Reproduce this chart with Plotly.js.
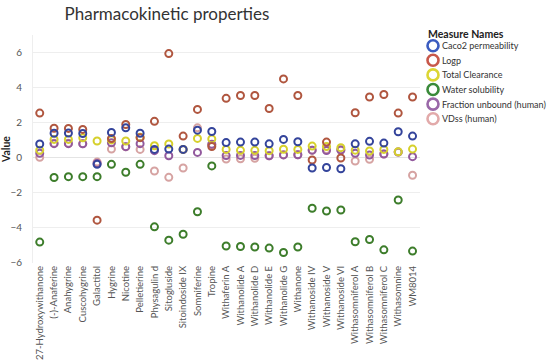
<!DOCTYPE html>
<html>
<head>
<meta charset="utf-8">
<script src="https://cdn.plot.ly/plotly-3.0.1.min.js"></script>
<style>html,body{margin:0;padding:0;background:#fff}#chart{width:550px;height:364px}</style>
</head>
<body>
<div id="chart"></div>
<script>
const categories = ["27-Hydroxywithanone","(-)-Anaferine","Anahygrine","Cuscohygrine","Galactitol","Hygrine","Nicotine","Pelletierine","Physagulin d","Sitogluside","Sitoindoside IX","Somniferine","Tropine","Withaferin A","Withanolide A","Withanolide D","Withanolide E","Withanolide G","Withanone","Withanoside IV","Withanoside V","Withanoside VI","Withasomniferol A","Withasomniferol B","Withasomniferol C","Withasomnine","WM8014"];
const caco2 = [0.76,1.37,1.38,1.36,-0.40,1.42,1.68,1.37,0.45,0.47,0.45,1.55,1.47,0.84,0.87,0.87,0.77,1.02,0.89,-0.61,-0.58,-0.65,0.77,0.91,0.81,1.46,1.21];
const logp = [2.52,1.66,1.65,1.59,-3.58,1.07,1.87,1.12,2.05,5.91,1.21,2.73,0.62,3.36,3.52,3.52,2.78,4.47,3.52,-0.15,0.87,-0.04,2.54,3.44,3.58,2.52,3.44];
const totalClearance = [0.41,1.02,1.02,1.11,0.93,1.00,0.93,1.15,0.66,0.76,0.45,1.08,1.05,0.45,0.40,0.40,0.38,0.46,0.45,0.64,0.62,0.55,0.41,0.36,0.45,0.32,0.47];
const waterSolubility = [-4.83,-1.15,-1.10,-1.10,-1.10,-0.40,-0.85,-0.40,-3.96,-4.72,-4.38,-3.10,-0.49,-5.05,-5.08,-5.11,-5.17,-5.42,-5.11,-2.90,-3.06,-3.00,-4.81,-4.68,-5.27,-2.43,-5.34];
const fractionUnbound = [0.23,0.78,0.78,0.77,-0.35,0.83,0.61,0.78,0.38,0.09,0.44,0.28,0.75,0.10,0.11,0.10,0.09,0.14,0.15,0.41,0.39,0.42,0.23,0.13,0.19,0.30,0.04];
const vdss = [0.00,0.80,0.80,0.78,-0.27,0.47,0.60,0.45,-0.78,-1.14,-0.61,1.68,0.72,-0.10,-0.08,-0.05,0.09,0.15,0.15,0.40,0.45,0.42,-0.21,-0.11,0.19,0.30,-1.02];

const measureNames = ["Caco2 permeability","Logp","Total Clearance","Water solubility","Fraction unbound (human)","VDss (human)"];
const seriesValues = [caco2, logp, totalClearance, waterSolubility, fractionUnbound, vdss];
const colors = ["#34449b","#b0563f","#d6d02c","#3d7d2b","#92599d","#d6a3a2"];
const legendColors = ["#3b5cc0","#c8584a","#dcd634","#3a8a3a","#9a68a8","#e2aaaa"];

const FONT = "Lato, 'Open Sans', sans-serif";
const drawOrder = [5,4,3,2,1,0];
const traces = drawOrder.map(i => ({
  type: "scatter", mode: "markers", name: measureNames[i],
  x: categories, y: seriesValues[i],
  marker: {symbol: "circle-open", size: 7, color: colors[i], line: {width: 2}},
  showlegend: false, hoverinfo: "x+y+name"
}));

// manual legend
const L = 33, R = 420, T = 35, B = 263;
const px = v => (v - L) / (R - L);
const py = v => (B - v) / (B - T);
const shapes = [], annotations = [];
measureNames.forEach((n, i) => {
  const yy = 45.7 + i * 14.6;
  shapes.push({type: "circle", xref: "paper", yref: "paper", xsizemode: "pixel", ysizemode: "pixel",
    xanchor: px(433), yanchor: py(yy), x0: -5.5, x1: 5.5, y0: -5.5, y1: 5.5,
    line: {color: legendColors[i], width: 2.6}, fillcolor: "rgba(0,0,0,0)"});
  annotations.push({xref: "paper", yref: "paper", x: px(439.5), y: py(yy), xanchor: "left", yanchor: "middle",
    text: n, showarrow: false, font: {family: FONT, size: 9, color: "#333"}});
});
annotations.push({xref: "paper", yref: "paper", x: px(426), y: py(34), xanchor: "left", yanchor: "middle",
  text: "<b>Measure Names</b>", showarrow: false, font: {family: FONT, size: 10.5, color: "#222"}});

const layout = {
  width: 550, height: 364,
  margin: {l: L, r: 550 - R, t: T, b: 364 - B, pad: 0},
  paper_bgcolor: "#fff", plot_bgcolor: "#fff",
  title: {text: "Pharmacokinetic properties", x: px(167), xref: "paper", xanchor: "center", y: 1 - 14/364, yanchor: "middle",
    font: {family: FONT, size: 17, color: "#333"}},
  font: {family: FONT},
  xaxis: {type: "category", range: [-0.47, 26.52], showgrid: false, zeroline: false, showline: false,
    tickangle: -90, ticks: "", tickfont: {family: FONT, size: 9.5, color: "#555"}, automargin: false, fixedrange: true},
  yaxis: {range: [-6.02, 6.97], tickvals: [-6,-4,-2,0,2,4,6], showgrid: true, gridcolor: "#eeeeee", gridwidth: 1,
    zeroline: true, zerolinecolor: "#e4e4e4", showline: true, linecolor: "#eeeeee", ticks: "", ticklen: 0,
    ticklabelstandoff: 8,
    tickfont: {family: FONT, size: 10, color: "#555"}, automargin: false,
    title: {text: "<b>Value</b>", font: {family: FONT, size: 10.5, color: "#222"}, standoff: 2}},
  shapes: shapes, annotations: annotations, showlegend: false
};
Plotly.newPlot("chart", traces, layout, {staticPlot: true, displayModeBar: false});
</script>
</body>
</html>
